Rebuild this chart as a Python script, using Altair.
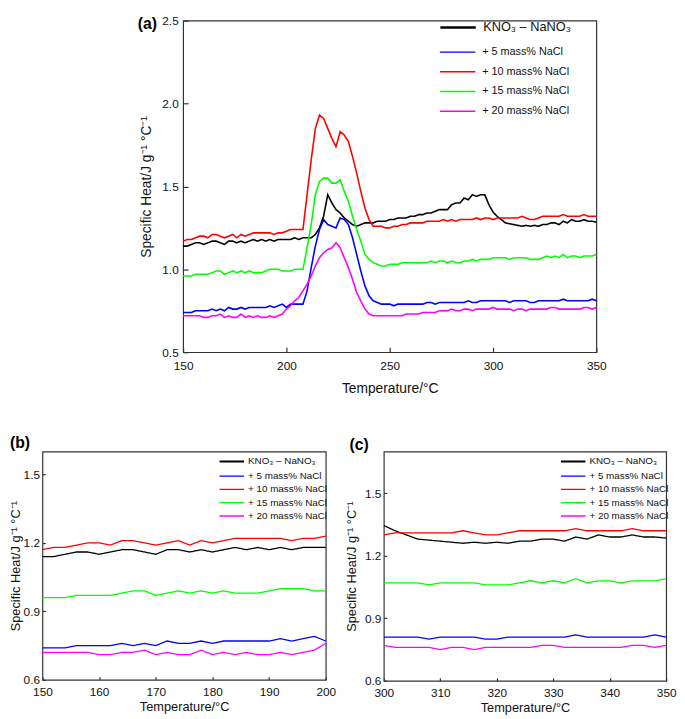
import altair as alt
import pandas as pd

FONT = "Liberation Sans"

# Temperature grid (°C)
temps = list(range(150, 351, 2))

series_names = ["KNO₃ – NaNO₃", "+ 5 mass% NaCl", "+ 10 mass% NaCl",
                "+ 15 mass% NaCl", "+ 20 mass% NaCl"]
series_colors = ["#000000", "#0000ff", "#ff0000", "#00ff00", "#ff00ff"]

# Specific heat values (J g-1 °C-1)
kno3_nano3 = [
    1.14, 1.14, 1.15, 1.16, 1.16, 1.15, 1.16, 1.17, 1.17, 1.16, 1.15, 1.17, 1.17,
    1.16, 1.17, 1.16, 1.17, 1.18, 1.17, 1.18, 1.17, 1.18, 1.17, 1.18, 1.18, 1.18,
    1.18, 1.19, 1.18, 1.19, 1.19, 1.19, 1.21, 1.25, 1.32, 1.45,
    1.40, 1.36, 1.34, 1.31, 1.29, 1.27, 1.26, 1.27, 1.28, 1.28,
    1.28, 1.29, 1.29, 1.29, 1.30, 1.30, 1.31, 1.31, 1.31, 1.32,
    1.32, 1.33, 1.33, 1.34, 1.34, 1.35, 1.36, 1.36, 1.36, 1.39,
    1.40, 1.40, 1.43, 1.42, 1.45, 1.44, 1.45, 1.45, 1.39,
    1.345, 1.32, 1.30, 1.28, 1.275, 1.27, 1.265, 1.26, 1.265, 1.26, 1.265, 1.26, 1.27,
    1.27, 1.28, 1.28, 1.27, 1.29, 1.28, 1.30, 1.29, 1.29, 1.30, 1.29, 1.29, 1.285,
]
nacl_5 = [
    0.74, 0.74, 0.74, 0.75, 0.75, 0.75, 0.75, 0.76, 0.75, 0.76, 0.75, 0.77, 0.76,
    0.76, 0.77, 0.76, 0.77, 0.77, 0.77, 0.77, 0.77, 0.78, 0.77, 0.78, 0.79, 0.77,
    0.79, 0.79, 0.79, 0.79, 0.87, 1.01, 1.14, 1.24, 1.30, 1.27,
    1.26, 1.25, 1.31, 1.30, 1.27, 1.19, 1.09, 0.99, 0.90, 0.84,
    0.81, 0.80, 0.79, 0.79, 0.79, 0.78, 0.79, 0.79, 0.79, 0.79,
    0.79, 0.79, 0.79, 0.80, 0.80, 0.79, 0.80, 0.80, 0.80, 0.80,
    0.80, 0.80, 0.80, 0.81, 0.80, 0.80, 0.81, 0.81, 0.81,
    0.81, 0.81, 0.81, 0.81, 0.80, 0.81, 0.81, 0.81, 0.81, 0.80, 0.80, 0.81, 0.81,
    0.81, 0.81, 0.81, 0.81, 0.82, 0.81, 0.81, 0.81, 0.81, 0.81, 0.81, 0.82, 0.81,
]
nacl_10 = [
    1.17, 1.18, 1.18, 1.19, 1.20, 1.20, 1.19, 1.21, 1.21, 1.20, 1.19, 1.20, 1.21,
    1.19, 1.21, 1.20, 1.21, 1.22, 1.22, 1.22, 1.22, 1.22, 1.21, 1.22, 1.22, 1.23,
    1.24, 1.24, 1.24, 1.24, 1.45, 1.66, 1.85, 1.93, 1.91, 1.85,
    1.79, 1.74, 1.83, 1.81, 1.77, 1.68, 1.58, 1.47, 1.37, 1.30,
    1.26, 1.26, 1.26, 1.25, 1.25, 1.26, 1.26, 1.27, 1.27, 1.28,
    1.28, 1.28, 1.28, 1.29, 1.29, 1.29, 1.29, 1.30, 1.29, 1.30,
    1.29, 1.30, 1.30, 1.30, 1.30, 1.31, 1.30, 1.31, 1.31,
    1.30, 1.31, 1.31, 1.31, 1.31, 1.31, 1.31, 1.32, 1.31, 1.30, 1.30, 1.31, 1.32,
    1.32, 1.32, 1.32, 1.32, 1.33, 1.32, 1.32, 1.32, 1.32, 1.33, 1.32, 1.32, 1.32,
]
nacl_15 = [
    0.96, 0.96, 0.96, 0.97, 0.97, 0.97, 0.97, 0.98, 0.99, 0.99, 0.97, 0.98, 0.99,
    0.98, 0.99, 0.98, 0.99, 0.98, 0.98, 0.98, 0.99, 1.00, 1.00, 1.00, 0.99, 0.99,
    0.99, 1.00, 1.00, 1.00, 1.13, 1.27, 1.45, 1.53, 1.55, 1.55,
    1.52, 1.52, 1.54, 1.47, 1.41, 1.32, 1.24, 1.17, 1.09, 1.06,
    1.04, 1.03, 1.02, 1.02, 1.03, 1.03, 1.03, 1.04, 1.04, 1.04,
    1.04, 1.04, 1.04, 1.04, 1.05, 1.04, 1.05, 1.05, 1.04, 1.05,
    1.04, 1.04, 1.05, 1.05, 1.06, 1.05, 1.06, 1.06, 1.06,
    1.07, 1.07, 1.07, 1.07, 1.06, 1.07, 1.07, 1.07, 1.07, 1.06, 1.06, 1.06, 1.07,
    1.08, 1.07, 1.08, 1.07, 1.09, 1.07, 1.08, 1.08, 1.07, 1.08, 1.08, 1.08, 1.09,
]
nacl_20 = [
    0.72, 0.72, 0.72, 0.72, 0.72, 0.71, 0.71, 0.72, 0.72, 0.73, 0.71, 0.72, 0.71,
    0.71, 0.73, 0.71, 0.72, 0.71, 0.72, 0.71, 0.71, 0.72, 0.71, 0.72, 0.73, 0.76,
    0.78, 0.81, 0.83, 0.87, 0.91, 0.96, 1.02, 1.07, 1.10, 1.12,
    1.13, 1.16, 1.13, 1.07, 1.01, 0.94, 0.86, 0.81, 0.76, 0.73,
    0.72, 0.72, 0.72, 0.72, 0.72, 0.72, 0.72, 0.72, 0.73, 0.73,
    0.73, 0.73, 0.74, 0.74, 0.74, 0.74, 0.75, 0.75, 0.75, 0.76,
    0.75, 0.75, 0.76, 0.76, 0.75, 0.76, 0.76, 0.76, 0.76,
    0.77, 0.76, 0.76, 0.76, 0.76, 0.75, 0.76, 0.76, 0.75, 0.76, 0.76, 0.76, 0.76,
    0.76, 0.77, 0.77, 0.76, 0.76, 0.76, 0.76, 0.76, 0.76, 0.77, 0.77, 0.76, 0.77,
]

rows = []
for name, vals in zip(series_names, [kno3_nano3, nacl_5, nacl_10, nacl_15, nacl_20]):
    for t, v in zip(temps, vals):
        rows.append({"T": t, "Cp": v, "series": name})
df = pd.DataFrame(rows)

X_TITLE = "Temperature/°C"
Y_TITLE = "Specific Heat/J g⁻¹ °C⁻¹"


def panel(label, xdom, xticks, ydom, yticks, w, h, c):
    base = alt.Chart(df).transform_filter(
        (alt.datum.T >= xdom[0]) & (alt.datum.T <= xdom[1]))
    x = alt.X("T:Q", scale=alt.Scale(domain=xdom, nice=False, zero=False),
              axis=alt.Axis(values=xticks, title=X_TITLE, format="d",
                            labelFontSize=c["lfs"], titleFontSize=c["tfs"],
                            tickSize=c["tick"], offset=-c["tick"],
                            labelPadding=c["xlp"], titlePadding=c["xtp"],
                            labelFlush=False, labelOverlap=False))
    y = alt.Y("Cp:Q", scale=alt.Scale(domain=ydom, nice=False, zero=False),
              axis=alt.Axis(values=yticks, title=Y_TITLE, format=".1f",
                            labelFontSize=c["lfs"], titleFontSize=c["tfs"],
                            tickSize=c["tick"], offset=-c["tick"],
                            labelPadding=c["ylp"], titlePadding=c["ytp"],
                            labelFlush=False, labelOverlap=False))
    black = base.transform_filter(alt.datum.series == series_names[0]).mark_line(
        color="black", strokeWidth=c["lw"]).encode(
        x=x, y=y,
        strokeDash=alt.StrokeDash(
            "series:N",
            scale=alt.Scale(domain=series_names[:1], range=[[1, 0]]),
            legend=alt.Legend(title=None, orient="none", legendX=c["legx"],
                              legendY=c["leg1y"], symbolType="stroke",
                              symbolSize=c["sym"], symbolStrokeWidth=c["blw"],
                              symbolStrokeColor="black", clipHeight=c["clip1"],
                              labelFontSize=c["l1fs"], labelOffset=c["loff"],
                              padding=0, labelFont=FONT)))
    colored = base.transform_filter(alt.datum.series != series_names[0]).mark_line(
        strokeWidth=c["lw"]).encode(
        x=x, y=y,
        color=alt.Color(
            "series:N",
            scale=alt.Scale(domain=series_names[1:], range=series_colors[1:]),
            legend=alt.Legend(title=None, orient="none", legendX=c["legx"],
                              legendY=c["leg2y"], symbolType="stroke",
                              symbolSize=c["sym"], symbolStrokeWidth=c["clw"],
                              clipHeight=c["clip2"],
                              labelFontSize=c["l2fs"], labelOffset=c["loff"],
                              rowPadding=c["rowpad"], padding=0,
                              labelFont=FONT)))
    lab = alt.Chart(pd.DataFrame({"label": [label]})).mark_text(
        align="left", baseline="middle", fontSize=16, fontWeight="bold",
        font=FONT, color="black").encode(
        text="label:N", x=alt.value(c["lx"]), y=alt.value(c["ly"]))
    return alt.layer(black, colored, lab).properties(width=w, height=h)


cfg_a = dict(lfs=12, tfs=14, tick=5, xlp=9, xtp=10, ylp=5, ytp=8, lw=1.6,
             legx=260, leg1y=0, leg2y=26, clip1=14, clip2=12, sym=1296,
             blw=2.5, clw=1.5, l1fs=13, l2fs=11, loff=6, rowpad=8,
             lx=-46, ly=3)
cfg_b = dict(lfs=12, tfs=13, tick=3, xlp=7, xtp=3, ylp=3, ytp=1, lw=1.3,
             legx=179, leg1y=5, leg2y=20, clip1=10, clip2=10, sym=625,
             blw=2.0, clw=1.3, l1fs=10, l2fs=10, loff=3, rowpad=3.5,
             lx=-33, ly=-9)
cfg_c = dict(cfg_b, ylp=3, ytp=6, lx=-35, ly=-7)

pa = panel("(a)", [150, 350], [150, 200, 250, 300, 350], [0.5, 2.5],
           [0.5, 1.0, 1.5, 2.0, 2.5], 420, 337, cfg_a)
pb = panel("(b)", [150, 200], [150, 160, 170, 180, 190, 200], [0.6, 1.6],
           [0.6, 0.9, 1.2, 1.5], 288, 232, cfg_b)
pc = panel("(c)", [300, 350], [300, 310, 320, 330, 340, 350], [0.6, 1.7],
           [0.6, 0.9, 1.2, 1.5], 287, 233, cfg_c)

spacer = alt.Chart(pd.DataFrame({"s": [0]})).mark_point(opacity=0, size=1).encode(
    x=alt.value(0), y=alt.value(0)).properties(
    width=95, height=10, view=alt.ViewBackground(stroke="transparent"))

indep_scale = dict(x="independent", y="independent", color="independent",
                   strokeDash="independent")
indep_leg = dict(color="independent", strokeDash="independent")

top = alt.hconcat(spacer, pa, spacing=0).resolve_scale(**indep_scale).resolve_legend(**indep_leg)
bottom = alt.hconcat(pb, pc, spacing=8).resolve_scale(**indep_scale).resolve_legend(**indep_leg)

chart = alt.concat(top, bottom, columns=1, align="none", spacing=38).resolve_scale(
    **indep_scale).resolve_legend(**indep_leg).properties(
    padding=0, background="white").configure_view(
    stroke="#333333", strokeWidth=1.2).configure_axis(
    grid=False, domain=False, labelFont=FONT, titleFont=FONT,
    labelColor="#111111", titleColor="#111111", titleFontWeight="normal",
    tickColor="#333333", tickWidth=1.2).configure_legend(
    labelFont=FONT, labelColor="#111111")

chart.save("out.html", embed_options={"renderer": "svg", "actions": False})
